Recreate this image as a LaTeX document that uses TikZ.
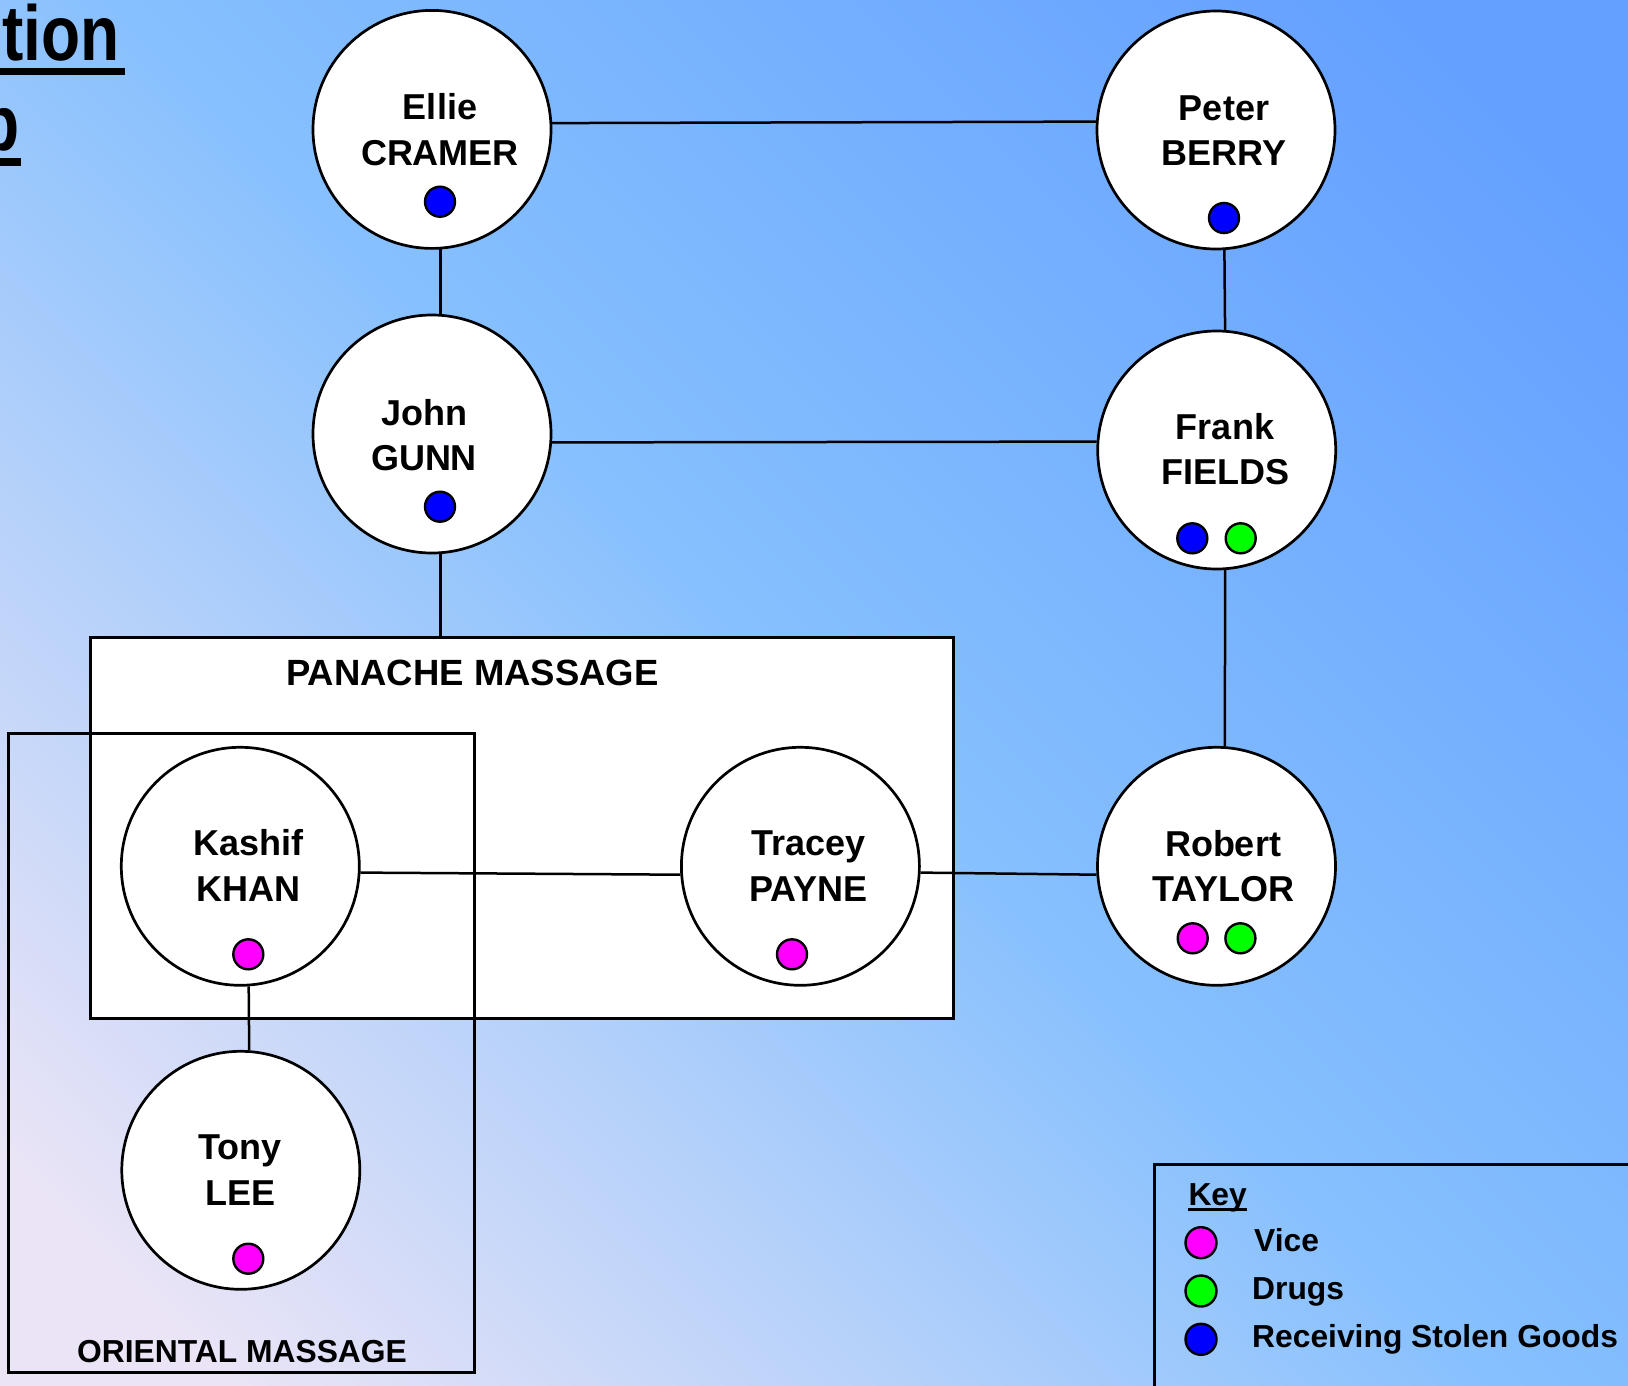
\documentclass[tikz,border=0pt]{standalone}
\usepackage{fontspec}
\setmainfont{Liberation Sans}
\usepackage{graphicx}
\definecolor{lav}{RGB}{234,228,246}
\definecolor{lb}{RGB}{134,192,254}
\definecolor{blu}{RGB}{100,160,255}
\definecolor{vice}{RGB}{255,0,255}
\definecolor{drugs}{RGB}{0,255,0}
\definecolor{rsg}{RGB}{0,0,255}
\pgfdeclareverticalshading{bgshade}{100bp}{color(0bp)=(lav); color(20bp)=(lav); color(50bp)=(lb); color(80bp)=(blu); color(100bp)=(blu)}
\begin{document}
\begin{tikzpicture}[x=1pt,y=-1pt,
  person/.style={circle, draw, fill=white, line width=2.7pt, minimum size=238pt, inner sep=0pt},
  nm/.style={inner sep=0pt, anchor=base, font=\fontsize{36}{43}\selectfont\bfseries},
  dot/.style={circle, draw, line width=2.4pt, minimum size=30pt, inner sep=0pt},
  link/.style={line width=2.5pt},
  box/.style={draw, line width=3pt, inner sep=0pt, anchor=north west},
  keytxt/.style={inner sep=0pt, anchor=base west, font=\fontsize{31.8}{38}\selectfont\bfseries},
]
\useasboundingbox (0,0) rectangle (1628,1386);
\shade[shading=bgshade, shading angle=-45] (0,0) rectangle (1628,1386);

% title (cut off at the left edge)
\node[inner sep=0pt, anchor=base east, font=\fontsize{78}{90}\selectfont\bfseries] (ttlA) at (120,61) {\scalebox{0.82}[1]{tion}};
\fill (0,68) rectangle (125,75);
\node[inner sep=0pt, anchor=base east, font=\fontsize{78}{90}\selectfont\bfseries] (ttlB) at (20,150) {\scalebox{0.82}[1]{p}};
\fill (0,158) rectangle (21,166);

% boxes
\node[box, fill=white, minimum width=862.9pt, minimum height=381pt] (panache) at (89.3,635.7) {};
\node[box, minimum width=465.2pt, minimum height=638.4pt] (oriental) at (7.3,732.3) {};
\node[box, minimum width=520pt, minimum height=260pt] (keybox) at (1152.7,1163.3) {};
\node[inner sep=0pt, anchor=base, font=\fontsize{36.5}{43}\selectfont\bfseries] (panT) at (472.5,685) {PANACHE MASSAGE};
\node[inner sep=0pt, anchor=base, font=\fontsize{31.8}{38}\selectfont\bfseries] (oriT) at (242,1362.7) {ORIENTAL MASSAGE};

% people circles
\node[person] (ellie) at (432,129.4) {};
\node[person] (peter) at (1216,130) {};
\node[person] (john) at (432,434) {};
\node[person] (frank) at (1216.7,450) {};
\node[person] (kashif) at (240.3,866.3) {};
\node[person] (tracey) at (800.4,866.3) {};
\node[person] (robert) at (1216.5,866.3) {};
\node[person] (tony) at (240.8,1170.3) {};

% connectors
\draw[link] (ellie.3.7) -- (peter.176.3);
\draw[link] (john.-4) -- (frank.176.3);
\draw[link] (ellie.-86.2) -- (john.86.2);
\draw[link] (peter.-86.1) -- (frank.86.4);
\draw[link] (frank.-86) -- (robert.86);
\draw[link] (john.-86.2) -- (john.-86.2 |- panache.north);
\draw[link] (kashif.-3.8) -- (tracey.-176.2);
\draw[link] (tracey.-3.8) -- (robert.-176.2);
\draw[link] (kashif.-86.2) -- (tony.86.4);

% names
\node[nm] (ellieA) at (440,119.5) {Ellie};
\node[nm] (ellieB) at (440,165) {CRAMER};
\node[nm] (peterA) at (1224,121) {Peter};
\node[nm] (peterB) at (1224,166) {BERRY};
\node[nm] (johnA) at (424,425.7) {John};
\node[nm] (johnB) at (424,470.3) {GUNN};
\node[nm] (frankA) at (1225,439.3) {Frank};
\node[nm] (frankB) at (1225,484.3) {FIELDS};
\node[nm] (kashifA) at (248.3,855) {Kashif};
\node[nm] (kashifB) at (248.3,901) {KHAN};
\node[nm] (traceyA) at (808.5,855) {Tracey};
\node[nm] (traceyB) at (808.5,901) {PAYNE};
\node[nm] (robertA) at (1223,856) {Robert};
\node[nm] (robertB) at (1223,901) {TAYLOR};
\node[nm] (tonyA) at (240.3,1159.3) {Tony};
\node[nm] (tonyB) at (240.3,1205) {LEE};

% dots
\node[dot, fill=rsg] (ellieD) at (440,201.7) {};
\node[dot, fill=rsg] (peterD) at (1224,218) {};
\node[dot, fill=rsg] (johnD) at (440,506.7) {};
\node[dot, fill=rsg] (frankD1) at (1192.3,538.3) {};
\node[dot, fill=drugs] (frankD2) at (1240.7,538.3) {};
\node[dot, fill=vice] (kashifD) at (248.3,954.3) {};
\node[dot, fill=vice] (traceyD) at (792,954.3) {};
\node[dot, fill=vice] (robertD1) at (1192.7,938.3) {};
\node[dot, fill=drugs] (robertD2) at (1240.4,938.3) {};
\node[dot, fill=vice] (tonyD) at (248.3,1258.7) {};

% key
\node[keytxt] (keyT) at (1188.3,1205) {Key};
\fill ([yshift=-3pt]keyT.base west) rectangle ([yshift=-6pt]keyT.base east);
\node[dot, fill=vice, minimum size=31pt] (kv) at (1201,1242.7) {};
\node[dot, fill=drugs, minimum size=31pt] (kd) at (1201,1291) {};
\node[dot, fill=rsg, minimum size=31pt] (kr) at (1201,1339.3) {};
\node[keytxt] (kvT) at (1254,1251) {Vice};
\node[keytxt] (kdT) at (1252,1299.3) {Drugs};
\node[keytxt] (krT) at (1252,1347.3) {Receiving Stolen Goods};
\end{tikzpicture}
\end{document}
